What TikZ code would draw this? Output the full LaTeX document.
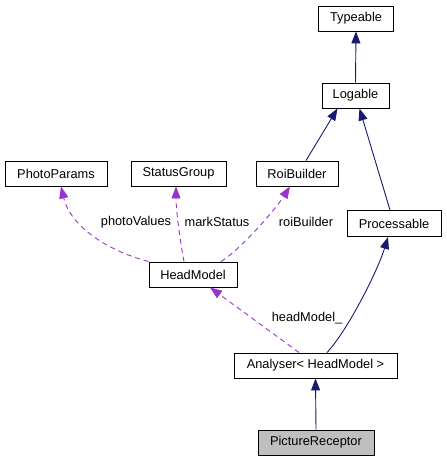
\documentclass[tikz,border=0pt]{standalone}
\usepackage{fontspec}
\setmainfont{Liberation Sans}
\usepackage{xcolor}
\usetikzlibrary{arrows.meta}
\definecolor{inheritblue}{HTML}{191970}
\definecolor{usagepurple}{HTML}{9A32CD}
\definecolor{receptorgray}{HTML}{BFBFBF}

\begin{document}
\begin{tikzpicture}[x=1pt,y=1pt,yscale=-1,xscale=1,
  classbox/.style={draw=black,line width=0.9pt,fill=white,minimum height=25pt,inner sep=0pt,font=\fontsize{12.8}{15}\selectfont},
  inherit/.style={draw=inheritblue,line width=0.9pt,-{Triangle[length=12pt,width=9pt]}},
  usage/.style={draw=usagepurple,line width=0.9pt,dash pattern=on 5pt off 4pt,-{Triangle[length=12pt,width=9pt]}},
  edgelabel/.style={inner sep=0pt,font=\fontsize{12.8}{15}\selectfont}]
\useasboundingbox (0,0) rectangle (447,461);

%Shape: Class boxes
\node [classbox,minimum width=75pt] (Typeable) at (356,18.5) {Typeable};
\node [classbox,minimum width=67pt] (Logable) at (355.5,95.5) {Logable};
\node [classbox,minimum width=102pt] (PhotoParams) at (56,173.5) {PhotoParams};
\node [classbox,minimum width=95pt] (StatusGroup) at (178.5,173.5) {StatusGroup};
\node [classbox,minimum width=82pt] (RoiBuilder) at (297,173.5) {RoiBuilder};
\node [classbox,minimum width=94pt,minimum height=26pt] (Processable) at (394,223.5) {Processable};
\node [classbox,minimum width=88pt] (HeadModel) at (193,274.5) {HeadModel};
\node [classbox,minimum width=163pt] (Analyser) at (315.5,365.5) {Analyser< HeadModel >};
\node [classbox,minimum width=116pt,fill=receptorgray] (PictureReceptor) at (316,442.5) {PictureReceptor};

%Straight Lines: inheritance
\draw [inherit] (Logable.north) -- (Typeable.south);
\draw [inherit] ([xshift=9pt]RoiBuilder.north) -- ([xshift=-18pt]Logable.south);
\draw [inherit] ([xshift=-4pt]Processable.north) -- ([xshift=4pt]Logable.south);
\draw [inherit] ([xshift=11.5pt]Analyser.north) .. controls (348,330) and (378,270) .. ([xshift=-6pt]Processable.south);
\draw [inherit] (PictureReceptor.north) -- (Analyser.south);

%Curves: usage
\draw [usage] (HeadModel.north west) .. controls (105,250) and (70,225) .. ([xshift=5pt]PhotoParams.south);
\draw [usage] ([xshift=-9pt]HeadModel.north) .. controls (180,240) and (176,210) .. ([xshift=-2.5pt]StatusGroup.south);
\draw [usage] ([xshift=28pt]HeadModel.north) .. controls (240,250) and (275,210) .. ([xshift=-7pt]RoiBuilder.south);
\draw [usage] ([xshift=-16.5pt]Analyser.north) -- ([xshift=17pt]HeadModel.south);

% Text Node
\node [edgelabel] (photoValues) at (136,222) {photoValues};
% Text Node
\node [edgelabel] (markStatus) at (217,222) {markStatus};
% Text Node
\node [edgelabel] (roiBuilder) at (306,222) {roiBuilder};
% Text Node
\node [edgelabel] (headModel) at (307,318.5) {headModel\_};

\end{tikzpicture}
\end{document}
